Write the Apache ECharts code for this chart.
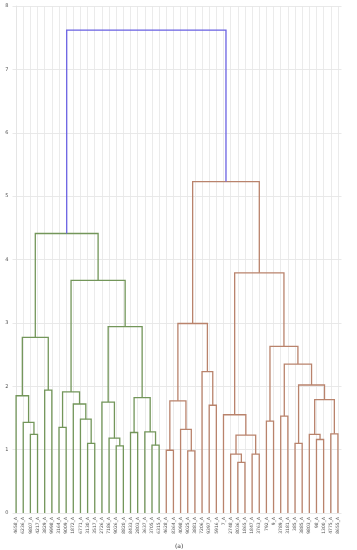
<!DOCTYPE html>
<html>
<head>
<meta charset="utf-8">
<script src="https://cdn.jsdelivr.net/npm/echarts@6/dist/echarts.min.js"></script>
<style>html,body{margin:0;padding:0;background:#fff;}#c{width:357px;height:550px;}</style>
</head>
<body>
<div id="c"></div>
<script>
// Leaf labels (left to right)
var leafLabels = ["4658_A","6236_A","9807_A","4217_A","3829_A","9998_A","3164_A","9009_A","1872_A","6771_A",
  "3130_A","3517_A","2726_A","7186_A","9026_A","8820_A","8433_A","2803_A","3637_A","3705_A",
  "6315_A","4628_A","8364_A","4098_A","9025_A","3881_A","7206_A","9397_A","5916_A","7_A",
  "2748_A","8036_A","1865_A","1847_A","3763_A","792_A","9_A","3789_A","3181_A","385_A",
  "3885_A","9803_A","98_A","1300_A","4775_A","8655_A"];
// Linkage (scipy convention: leaf i = i, merge k = 46 + k)
var mergeA = [2,1,0,4,48,6,10,9,8,51,14,13,12,16,19,18,59,58,55,50,21,24,23,66,27,26,69,31,30,33,74,29,35,37,39,42,41,44,82,80,79,78,77,72,65];
var mergeB = [3,46,47,5,49,7,11,52,53,54,15,56,57,17,20,60,61,62,63,64,22,25,67,68,28,70,71,32,73,34,75,76,36,38,40,43,81,45,83,84,85,86,87,88,89];
var mergeHeight = [1.24,1.43,1.85,1.94,2.77,1.35,1.10,1.48,1.72,1.91,1.06,1.18,1.75,1.27,1.07,1.28,1.82,2.94,3.67,4.41,
  0.99,0.98,1.32,1.77,1.70,2.23,2.99,0.80,0.93,0.93,1.23,1.55,1.45,1.53,1.10,1.16,1.24,1.25,1.79,2.02,2.35,2.63,3.79,5.23,7.62];
var yTicks = [0,1,2,3,4,5,6,7,8];
var colorThreshold = 7;
var clusterColors = ["#73965a","#b9836c"];
var aboveColor = "#6a62e2";

var n = leafLabels.length;
var nodeX = [], nodeH = [];
for (var i = 0; i < n; i++) { nodeX[i] = i; nodeH[i] = 0; }
for (var k = 0; k < mergeA.length; k++) {
  nodeX[n + k] = (nodeX[mergeA[k]] + nodeX[mergeB[k]]) / 2;
  nodeH[n + k] = mergeHeight[k];
}
// colour assignment like scipy: each top-most subtree below threshold gets a palette colour
var linkColor = [];
var cIdx = 0;
function paint(node, col) {
  if (node < n) return;
  var k = node - n;
  var c = col;
  if (c == null) {
    if (mergeHeight[k] < colorThreshold) { c = clusterColors[cIdx % clusterColors.length]; cIdx++; }
  }
  linkColor[k] = c == null ? aboveColor : c;
  // left subtree first for palette order
  paint(mergeA[k], c);
  paint(mergeB[k], c);
}
paint(n + mergeA.length - 1, null);

var linkData = [];
for (var k = 0; k < mergeA.length; k++) {
  var a = mergeA[k], b = mergeB[k];
  linkData.push({value: [nodeX[a], nodeH[a], nodeX[b], nodeH[b], mergeHeight[k]], itemStyle: {color: linkColor[k]}});
}

var chart = echarts.init(document.getElementById('c'), null, {renderer: 'canvas'});
chart.setOption({
  animation: false,
  backgroundColor: '#fff',
  textStyle: {fontFamily: 'DejaVu Sans'},
  title: {text: '(a)', left: 170, top: 538, textStyle: {fontSize: 6, fontWeight: 'normal', color: '#333', fontFamily: 'DejaVu Sans'}},
  grid: {left: 12.5, right: 15.5, top: 6, bottom: 37, containLabel: false},
  xAxis: [
    {type: 'value', min: -0.5, max: n - 0.5, show: false},
    {type: 'category', data: leafLabels, boundaryGap: true, position: 'bottom',
     axisLine: {show: false}, axisTick: {show: false},
     axisLabel: {rotate: 90, fontSize: 4.5, color: '#555', margin: 4, interval: 0},
     splitLine: {show: true, alignWithLabel: true, interval: 0, lineStyle: {color: '#e6e6e6', width: 0.8}}}
  ],
  yAxis: {type: 'value', min: yTicks[0], max: yTicks[yTicks.length - 1], interval: 1,
    axisLine: {show: true, lineStyle: {color: '#e3e3e3', width: 0.8}}, axisTick: {show: false},
    axisLabel: {fontSize: 5, color: '#555', margin: 4},
    splitLine: {show: true, lineStyle: {color: '#e3e3e3', width: 0.8}}},
  series: [{
    type: 'custom',
    xAxisIndex: 0,
    data: linkData,
    clip: false,
    renderItem: function (params, api) {
      var xa = api.value(0), ha = api.value(1), xb = api.value(2), hb = api.value(3), h = api.value(4);
      var p1 = api.coord([xa, ha]), p2 = api.coord([xa, h]), p3 = api.coord([xb, h]), p4 = api.coord([xb, hb]);
      return {type: 'polyline', shape: {points: [p1, p2, p3, p4]},
        style: {stroke: api.visual('color'), lineWidth: 1.3, fill: null}};
    }
  }]
});
</script>
</body>
</html>
